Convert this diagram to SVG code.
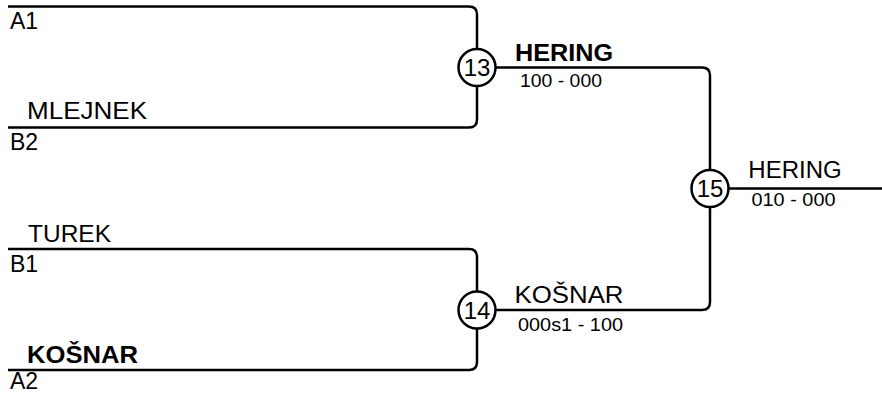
<svg xmlns="http://www.w3.org/2000/svg" width="882" height="394" viewBox="0 0 882 394">
<style>
.ln{fill:none;stroke:#000;stroke-width:2.5;stroke-linejoin:round}
text{font-family:"Liberation Sans",Arial,Helvetica,sans-serif;fill:#000}
.nm{font-size:23px}
.b{font-weight:bold}
.sc{font-size:18.5px}
.circ{fill:#fff;stroke:#000;stroke-width:2.5}
.num{font-size:24px;text-anchor:middle}
</style>
<rect width="882" height="394" fill="#fff"/>
<g id="connectors">
<path class="ln" d="M8,6.5 H469 Q477,6.5 477,14.5 V119.5 Q477,127.5 469,127.5 H8"/>
<path class="ln" d="M8,249 H469 Q477,249 477,257 V362 Q477,370 469,370 H8"/>
<path class="ln" d="M477,67.5 H702 Q710,67.5 710,75.5 V302 Q710,310 702,310 H477"/>
<path class="ln" d="M710,188.5 H882"/>
</g>
<g id="slot-a1"><text class="nm" x="10" y="29">A1</text></g>
<g id="slot-b2"><text class="nm" x="27" y="119" textLength="120" lengthAdjust="spacingAndGlyphs">MLEJNEK</text><text class="nm" x="10" y="150">B2</text></g>
<g id="slot-b1"><text class="nm" x="28" y="241.5" textLength="83" lengthAdjust="spacingAndGlyphs">TUREK</text><text class="nm" x="10" y="271.5">B1</text></g>
<g id="slot-a2"><text class="nm b" x="27" y="362.5" textLength="111" lengthAdjust="spacingAndGlyphs">KOŠNAR</text><text class="nm" x="10" y="389">A2</text></g>
<g id="match13">
<circle class="circ" cx="477" cy="67.5" r="18.5"/>
<text class="num" x="477" y="76">13</text>
<text class="nm b" x="515" y="61" textLength="98" lengthAdjust="spacingAndGlyphs">HERING</text>
<text class="sc" x="520" y="87" textLength="82" lengthAdjust="spacingAndGlyphs">100 - 000</text>
</g>
<g id="match14">
<circle class="circ" cx="477" cy="310" r="18.5"/>
<text class="num" x="477" y="318.5">14</text>
<text class="nm" x="514.5" y="303.3" textLength="109" lengthAdjust="spacingAndGlyphs">KOŠNAR</text>
<text class="sc" x="518" y="330.7" textLength="105" lengthAdjust="spacingAndGlyphs">000s1 - 100</text>
</g>
<g id="match15">
<circle class="circ" cx="710" cy="188.5" r="18.5"/>
<text class="num" x="710" y="197">15</text>
<text class="nm" x="748.3" y="178" textLength="93.4" lengthAdjust="spacingAndGlyphs">HERING</text>
<text class="sc" x="751.5" y="205.7" textLength="84" lengthAdjust="spacingAndGlyphs">010 - 000</text>
</g>
</svg>
